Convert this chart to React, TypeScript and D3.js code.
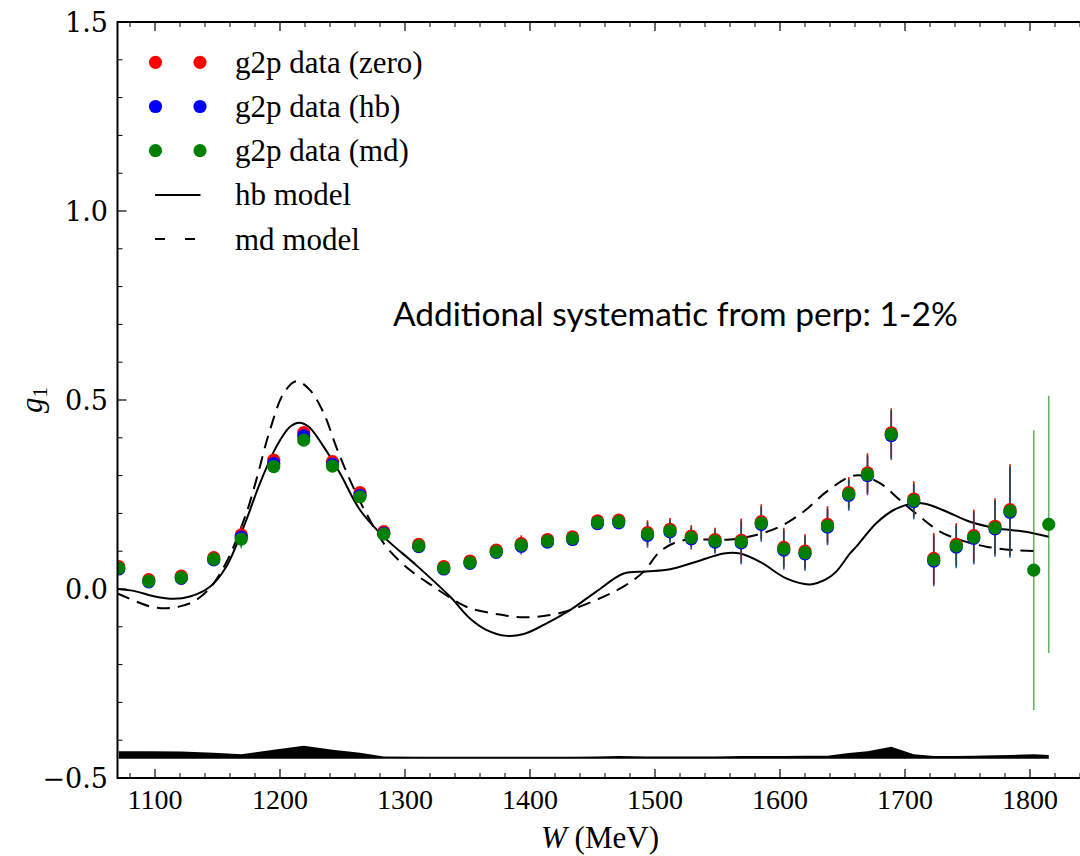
import React from "react";
import * as d3 from "d3";

// ---------- data ----------
const W = [1071, 1095, 1121, 1147, 1169, 1195, 1219, 1242, 1264, 1283, 1311, 1331, 1352, 1373, 1393, 1414, 1434, 1454, 1471, 1494, 1512, 1529, 1548, 1569, 1585, 1603, 1620, 1638, 1655, 1670, 1689, 1707, 1723, 1741, 1755, 1772, 1784, 1803, 1815];

const gZero = [0.059, 0.025, 0.034, 0.083, 0.143, 0.341, 0.414, 0.337, 0.255, 0.152, 0.118, 0.059, 0.074, 0.103, 0.120, 0.131, 0.138, 0.180, 0.182, 0.149, 0.158, 0.140, 0.131, 0.129, 0.178, 0.110, 0.100, 0.171, 0.255, 0.307, 0.413, 0.238, 0.081, 0.118, 0.141, 0.166, 0.210];
const gHb = [0.053, 0.019, 0.028, 0.077, 0.137, 0.332, 0.405, 0.330, 0.248, 0.147, 0.112, 0.053, 0.068, 0.097, 0.113, 0.124, 0.131, 0.173, 0.175, 0.142, 0.151, 0.133, 0.124, 0.122, 0.171, 0.103, 0.093, 0.164, 0.248, 0.300, 0.406, 0.231, 0.074, 0.111, 0.134, 0.159, 0.203];
const gMd = [0.055, 0.021, 0.030, 0.079, 0.132, 0.324, 0.394, 0.325, 0.244, 0.145, 0.114, 0.055, 0.070, 0.099, 0.116, 0.127, 0.134, 0.176, 0.178, 0.145, 0.154, 0.136, 0.127, 0.125, 0.174, 0.106, 0.096, 0.167, 0.251, 0.303, 0.409, 0.234, 0.077, 0.114, 0.137, 0.162, 0.206, 0.050, 0.171];
const gErr = [0.004, 0.004, 0.005, 0.006, 0.025, 0.012, 0.012, 0.012, 0.012, 0.012, 0.012, 0.012, 0.013, 0.014, 0.022, 0.015, 0.015, 0.016, 0.016, 0.033, 0.030, 0.029, 0.031, 0.057, 0.046, 0.052, 0.045, 0.048, 0.041, 0.052, 0.065, 0.047, 0.067, 0.056, 0.069, 0.074, 0.120, 0.370, 0.340];

// systematic band (height above baseline)
const systBase = -0.449;
const syst = [0.020, 0.020, 0.019, 0.016, 0.012, 0.024, 0.034, 0.024, 0.016, 0.006, 0.005, 0.005, 0.005, 0.005, 0.005, 0.005, 0.005, 0.006, 0.007, 0.006, 0.006, 0.006, 0.006, 0.007, 0.007, 0.007, 0.008, 0.008, 0.015, 0.020, 0.032, 0.012, 0.007, 0.007, 0.008, 0.009, 0.010, 0.012, 0.010];

const hbModel: [number, number][] = [[1070, 0.0], [1083, -0.005], [1099, -0.019], [1115, -0.026], [1128, -0.020], [1144, 0.006], [1157, 0.059], [1171, 0.165], [1184, 0.280], [1197, 0.376], [1208, 0.429], [1215.5, 0.440], [1223, 0.429], [1235, 0.376], [1248, 0.306], [1264, 0.209], [1283, 0.138], [1309, 0.063], [1336, -0.020], [1352, -0.078], [1365, -0.108], [1381, -0.124], [1395, -0.119], [1411, -0.095], [1432, -0.056], [1453, -0.007], [1475, 0.041], [1493, 0.046], [1512, 0.052], [1533, 0.072], [1555, 0.094], [1568, 0.094], [1584, 0.072], [1605, 0.028], [1624, 0.012], [1637, 0.026], [1645, 0.046], [1656, 0.094], [1661, 0.112], [1677, 0.174], [1691, 0.209], [1707, 0.227], [1717, 0.225], [1733, 0.205], [1752, 0.178], [1773, 0.161], [1795, 0.152], [1815, 0.138]];

const mdModel: [number, number][] = [[1070, -0.012], [1085, -0.033], [1097, -0.047], [1109, -0.051], [1120, -0.046], [1131, -0.033], [1144, 0.003], [1157, 0.070], [1173, 0.200], [1181, 0.288], [1192, 0.421], [1203, 0.518], [1213, 0.550], [1224, 0.526], [1235, 0.465], [1245, 0.376], [1256, 0.288], [1269, 0.200], [1285, 0.112], [1304, 0.050], [1323, 0.006], [1339, -0.029], [1352, -0.051], [1373, -0.066], [1395, -0.075], [1416, -0.069], [1432, -0.056], [1459, -0.020], [1477, 0.011], [1491, 0.046], [1504, 0.099], [1520, 0.127], [1539, 0.131], [1560, 0.131], [1581, 0.143], [1600, 0.165], [1619, 0.205], [1637, 0.257], [1656, 0.297], [1665, 0.300], [1680, 0.280], [1696, 0.235], [1712, 0.191], [1728, 0.152], [1744, 0.130], [1765, 0.112], [1787, 0.103], [1809, 0.100]];

const xMajor = [1100, 1200, 1300, 1400, 1500, 1600, 1700, 1800];
const yMajor = [-0.5, 0.0, 0.5, 1.0, 1.5];
const yLabels = ["\u22120.5", "0.0", "0.5", "1.0", "1.5"];

const seriesNames = ["g2p data (zero)", "g2p data (hb)", "g2p data (md)"];
const seriesColors = ["#ff0000", "#0000ff", "#008000"];
const modelNames = ["hb model", "md model"];
const note = "Additional systematic from perp: 1-2%";

// ---------- layout ----------
const WIDTH = 1080, HEIGHT = 856;
const L = 117.5, T = 22, B = 778;

export default function App() {
  const x = d3.scaleLinear().domain([1070, 1842]).range([L, L + 772 * 1.25]);
  const y = d3.scaleLinear().domain([-0.5, 1.5]).range([B, T]);
  const R = x.range()[1];

  const line = d3.line<[number, number]>().x(d => x(d[0])).y(d => y(d[1])).curve(d3.curveCatmullRom.alpha(0.5));
  const area = d3.area<number>()
    .x((_, i) => x(W[i]))
    .y0(() => y(systBase))
    .y1((d) => y(systBase + d));

  const xMinor = d3.range(1080, 1841, 20).filter(v => v % 100 !== 0);
  const yMinor = d3.range(-5, 16).map(v => v / 10).filter(v => Math.abs(v * 2 - Math.round(v * 2)) > 1e-6);

  const series = [
    { vals: gZero, errs: gErr.slice(0, gZero.length), color: seriesColors[0], op: 1 },
    { vals: gHb, errs: gErr.slice(0, gHb.length), color: seriesColors[1], op: 0.7 },
    { vals: gMd, errs: gErr, color: seriesColors[2], op: 0.6 },
  ];

  const serif = "'Liberation Serif', 'Times New Roman', serif";
  const mathSerif = "'DejaVu Serif', serif";
  const rowY = (i: number) => 62.3 + i * 44.2;

  return (
    <svg width={WIDTH} height={HEIGHT} style={{ position: "absolute", left: 0, top: 0, background: "#fff" }}>
      <defs>
        <clipPath id="plotclip">
          <rect x={L} y={T} width={R - L} height={B - T} />
        </clipPath>
      </defs>
      <rect x={0} y={0} width={WIDTH} height={HEIGHT} fill="#fff" />

      <g clipPath="url(#plotclip)">
        {/* systematic band */}
        <path d={area(syst) || ""} fill="#000" />

        {/* models */}
        <path d={line(hbModel) || ""} fill="none" stroke="#000" strokeWidth={2} />
        <path d={line(mdModel) || ""} fill="none" stroke="#000" strokeWidth={2} strokeDasharray="13,8" />

        {/* error bars */}
        {series.map((s, si) => (
          <g key={"e" + si} stroke={s.color} strokeOpacity={s.op} strokeWidth={1.6}>
            {s.vals.map((v, i) => (
              <line key={i} x1={x(W[i])} x2={x(W[i])} y1={y(v - s.errs[i])} y2={y(v + s.errs[i])} />
            ))}
          </g>
        ))}
        {/* markers */}
        {series.map((s, si) => (
          <g key={"m" + si} fill={s.color}>
            {s.vals.map((v, i) => (
              <circle key={i} cx={x(W[i])} cy={y(v)} r={6.6} />
            ))}
          </g>
        ))}
      </g>

      {/* frame */}
      <rect x={L} y={T} width={R - L} height={B - T} fill="none" stroke="#000" strokeWidth={2} />

      {/* x ticks */}
      {xMajor.map(v => (
        <g key={"xm" + v}>
          <line x1={x(v)} x2={x(v)} y1={B} y2={B - 9} stroke="#000" strokeWidth={1.2} />
          <line x1={x(v)} x2={x(v)} y1={T} y2={T + 9} stroke="#000" strokeWidth={1.2} />
          <text x={x(v)} y={808.5} textAnchor="middle" fontFamily={serif} fontSize={28}>{v}</text>
        </g>
      ))}
      {xMinor.map(v => (
        <g key={"xn" + v}>
          <line x1={x(v)} x2={x(v)} y1={B} y2={B - 5} stroke="#000" strokeWidth={1} />
          <line x1={x(v)} x2={x(v)} y1={T} y2={T + 5} stroke="#000" strokeWidth={1} />
        </g>
      ))}

      {/* y ticks */}
      {yMajor.map((v, i) => (
        <g key={"ym" + v}>
          <line x1={L} x2={L + 9} y1={y(v)} y2={y(v)} stroke="#000" strokeWidth={1.2} />
          <text x={108} y={y(v)} dy="0.36em" textAnchor="end" fontFamily={mathSerif} fontSize={27}>{yLabels[i]}</text>
        </g>
      ))}
      {yMinor.map(v => (
        <line key={"yn" + v} x1={L} x2={L + 5} y1={y(v)} y2={y(v)} stroke="#000" strokeWidth={1} />
      ))}

      {/* axis labels */}
      <text x={(L + R) / 2} y={848} textAnchor="middle" fontFamily={serif} fontSize={31}>
        <tspan fontStyle="italic">W</tspan> (MeV)
      </text>
      <text transform={`translate(42, ${y(0.5)}) rotate(-90)`} textAnchor="middle" fontFamily={serif} fontSize={31}>
        <tspan fontStyle="italic">g</tspan><tspan fontSize={21} dy="5">1</tspan>
      </text>

      {/* legend */}
      {seriesNames.map((n, i) => (
        <g key={"l" + i}>
          <circle cx={155.5} cy={rowY(i)} r={6.6} fill={seriesColors[i]} />
          <circle cx={200} cy={rowY(i)} r={6.6} fill={seriesColors[i]} />
          <text x={235} y={rowY(i) + 10.5} fontFamily={serif} fontSize={31}>{n}</text>
        </g>
      ))}
      {modelNames.map((n, i) => (
        <g key={"lm" + i}>
          <line x1={155} x2={200.5} y1={rowY(i + 3)} y2={rowY(i + 3)} stroke="#000" strokeWidth={2}
            strokeDasharray={i === 1 ? "10,20" : undefined} />
          <text x={235} y={rowY(i + 3) + 10.5} fontFamily={serif} fontSize={31}>{n}</text>
        </g>
      ))}

      {/* annotation */}
      <text x={393} y={326} fontFamily="Lato, 'Open Sans', sans-serif" fontSize={33.5}>{note}</text>
    </svg>
  );
}
